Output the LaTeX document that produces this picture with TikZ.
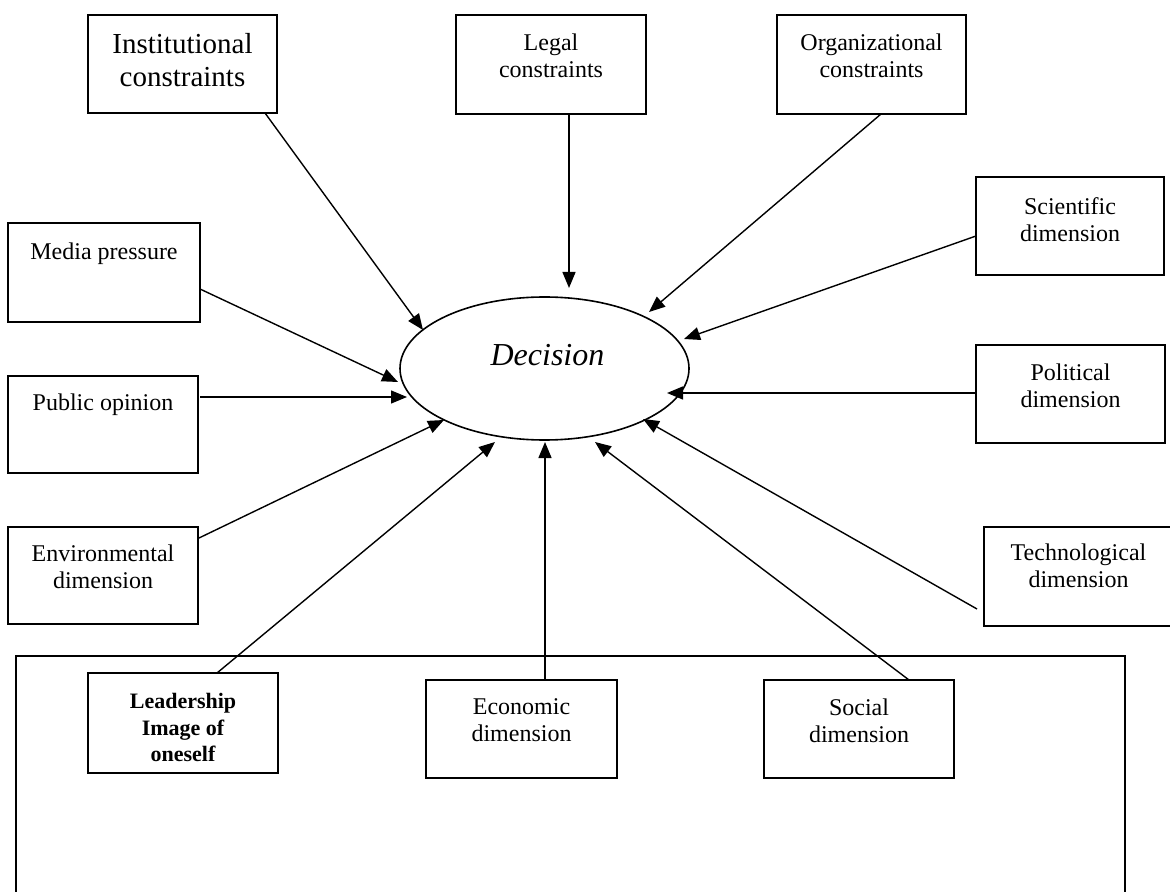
\documentclass[tikz,border=0pt]{standalone}
\usepackage{fontspec}
\setmainfont{Liberation Serif}
\usetikzlibrary{shapes.geometric,arrows.meta,calc}

\tikzset{
  box/.style={draw, line width=0.8pt, rectangle, inner sep=0pt, outer sep=0pt, anchor=north west},
  lbl/.style={anchor=north, inner sep=0pt, align=center, font=\fontsize{12}{13.8}\selectfont},
  arr/.style={line width=0.7pt, -{Triangle[length=8pt,width=6.5pt]}},
}

\begin{document}
\begin{tikzpicture}[x=0.5pt,y=-0.5pt]
\useasboundingbox (0,0) rectangle (1170,892);
\clip (0,0) rectangle (1170,892);
\fill[white] (0,0) rectangle (1170,892);

% open frame round the lower row
\draw[line width=0.8pt] (16,910) -- (16,656) -- (1125,656) -- (1125,910);

% central decision ellipse
\node[ellipse, draw, line width=0.8pt, minimum width=144.5pt, minimum height=71.5pt, inner sep=0pt] (dec) at (544.5,368.5) {};
\node[font=\fontsize{16}{19}\selectfont\itshape, inner sep=0pt] (decT) at ($(dec.center)+(3,-13.5)$) {Decision};

% surrounding factor boxes
\node[box, minimum width=94.5pt, minimum height=49pt]   (inst)   at (88,15)   {};
\node[box, minimum width=95pt,   minimum height=49.5pt] (legal)  at (456,15)  {};
\node[box, minimum width=94.5pt, minimum height=49.5pt] (org)    at (777,15)  {};
\node[box, minimum width=94pt,   minimum height=49pt]   (sci)    at (976,177) {};
\node[box, minimum width=96pt,   minimum height=49.5pt] (media)  at (8,223)   {};
\node[box, minimum width=95pt,   minimum height=48.5pt] (public) at (8,376)   {};
\node[box, minimum width=94.5pt, minimum height=49pt]   (pol)    at (976,345) {};
\node[box, minimum width=95pt,   minimum height=48.5pt] (env)    at (8,527)   {};
\node[box, minimum width=100pt,  minimum height=49.5pt] (tech)   at (984,527) {};
\node[box, minimum width=95pt,   minimum height=50pt]   (lead)   at (88,673)  {};
\node[box, minimum width=95.5pt, minimum height=49pt]   (econ)   at (426,680) {};
\node[box, minimum width=95pt,   minimum height=49pt]   (social) at (764,680) {};

% box texts
\node[lbl, font=\fontsize{14.5}{16.5}\selectfont] (instT) at ($(inst.north)+(0,18)$) {Institutional\\constraints};
\node[lbl] (legalT)  at ($(legal.north)+(0,18)$)  {Legal\\constraints};
\node[lbl] (orgT)    at ($(org.north)+(0,18)$)    {Organizational\\constraints};
\node[lbl] (sciT)    at ($(sci.north)+(0,20)$)    {Scientific\\dimension};
\node[lbl] (mediaT)  at ($(media.north)+(0,19)$)  {Media pressure};
\node[lbl] (publicT) at ($(public.north)+(0,17)$) {Public opinion};
\node[lbl] (polT)    at ($(pol.north)+(0,18)$)    {Political\\dimension};
\node[lbl] (envT)    at ($(env.north)+(0,17)$)    {Environmental\\dimension};
\node[lbl] (techT)   at ($(tech.north)+(-5.5,16)$) {Technological\\dimension};
\node[lbl, font=\fontsize{11}{13.25}\selectfont\bfseries] (leadT) at ($(lead.north)+(0,20)$) {Leadership\\Image of\\oneself};
\node[lbl] (econT)   at ($(econ.north)+(0,18)$)   {Economic\\dimension};
\node[lbl] (socialT) at ($(social.north)+(0,18)$) {Social\\dimension};

% influences pointing at the decision
\draw[arr] ($(inst.south west)+(177,0)$)  -- ($(dec.center)+(-121.5,-38.5)$);
\draw[arr] ($(legal.south west)+(113,0)$) -- ($(dec.center)+(24.5,-80.5)$);
\draw[arr] ($(org.south west)+(104,0)$)   -- ($(dec.center)+(104.5,-56.5)$);
\draw[arr] ($(sci.north west)+(0,59)$)    -- ($(dec.center)+(139.5,-29.5)$);
\draw[arr] ($(media.north east)+(0,66)$)  -- ($(dec.center)+(-146.5,13.5)$);
\draw[arr] ($(public.north east)+(2,21)$) -- ($(dec.center)+(-137.5,28.5)$);
\draw[arr] ($(pol.north west)+(0,48)$)    -- ($(dec.center)+(122.5,24.5)$);
\draw[arr] ($(env.north east)+(1,11)$)    -- ($(dec.center)+(-100.5,51.5)$);
\draw[arr] ($(tech.north west)+(-7,82)$)  -- ($(dec.center)+(98.5,50.5)$);
\draw[arr] ($(lead.north west)+(129,0)$)  -- ($(dec.center)+(-49.5,73.5)$);
\draw[arr] ($(econ.north west)+(119,0)$)  -- ($(dec.center)+(0.5,73.5)$);
\draw[arr] ($(social.north west)+(145,0)$) -- ($(dec.center)+(50.5,73.5)$);
\end{tikzpicture}
\end{document}
